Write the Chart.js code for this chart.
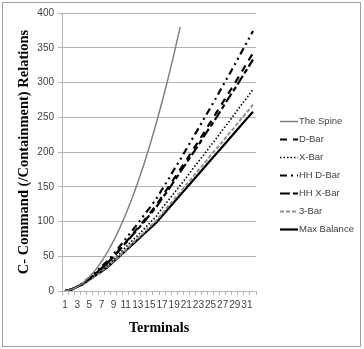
<!DOCTYPE html>
<html>
<head>
<meta charset="utf-8">
<script src="https://cdn.jsdelivr.net/npm/chart.js@4/dist/chart.umd.min.js"></script>
<style>
html,body{margin:0;padding:0;background:#fff;}
#wrap{width:364px;height:349px;position:relative;}
</style>
</head>
<body>
<div id="wrap"><canvas id="c"></canvas></div>
<script>
const terminals = [1,2,3,4,5,6,7,8,9,10,11,12,13,14,15,16,17,18,19,20,21,22,23,24,25,26,27,28,29,30,31,32];
const spine      = [0,2,6,12,20,30,42,56,72,90,110,132,156,182,210,240,272,306,342,380];
const dBar       = [0,2,6,11,18,25,33,40,50,60,70,80,91,101,112,123,136,149,162,175,188,202,215,229,243,257,271,285,299,313,328,342];
const xBar       = [0,2,6,10,17,23,30,36,45,54,63,72,80,89,98,107,119,130,141,152,163,175,186,197,209,220,232,243,255,267,278,290];
const hhDBar     = [0,2,6,12,19,27,35,43,53,64,75,86,97,109,120,132,146,160,175,189,204,219,234,249,264,279,295,310,326,342,358,374];
const hhXBar     = [0,2,6,11,18,25,32,40,49,59,69,79,89,99,110,120,133,145,158,171,184,197,210,224,237,250,264,278,291,305,319,333];
const threeBar   = [0,2,6,10,16,22,29,35,43,51,59,68,76,84,93,101,111,122,132,142,153,163,174,184,195,205,215,226,236,247,257,268];
const maxBalance = [0,2,6,10,16,22,28,34,42,50,58,66,74,82,90,98,108,118,128,138,148,158,168,178,188,198,208,218,228,238,248,258];
const seriesNames = ['The Spine','D-Bar','X-Bar','HH D-Bar','HH X-Bar','3-Bar','Max Balance'];
const yTicks = [0,50,100,150,200,250,300,350,400];

const GRID = '#b4b4b4';
const TXT = '#404040';

function ds(label, data, color, dash, width){
  return {label, data, borderColor: color, backgroundColor: color, borderDash: dash,
    borderWidth: width, pointRadius: 0, pointHoverRadius: 0, tension: 0, fill: false,
    borderCapStyle: 'butt'};
}

const frame = {
  id: 'frame',
  beforeDraw(chart){
    const ctx = chart.ctx;
    ctx.save();
    ctx.fillStyle = '#fff';
    ctx.fillRect(0,0,chart.width,chart.height);
    ctx.restore();
  },
  afterDraw(chart){
    const ctx = chart.ctx;
    ctx.save();
    ctx.strokeStyle = '#a0a0a0';
    ctx.lineWidth = 1;
    ctx.strokeRect(2.5, 2.5, 358, 344);
    // custom legend
    ctx.font = '9.5px "Liberation Sans", Arial, sans-serif';
    ctx.textBaseline = 'middle';
    chart.data.datasets.forEach((d, i) => {
      const y = Math.round(120.7 + i * 18.1) + 0.5;
      ctx.beginPath();
      ctx.setLineDash(d.borderDash || []);
      ctx.strokeStyle = d.borderColor;
      ctx.lineWidth = d.borderWidth;
      ctx.moveTo(280, y);
      ctx.lineTo(298, y);
      ctx.stroke();
      ctx.setLineDash([]);
      ctx.fillStyle = TXT;
      ctx.fillText(d.label, 299, y);
    });
    ctx.restore();
  }
};

new Chart(document.getElementById('c'), {
  type: 'line',
  data: {
    labels: terminals,
    datasets: [
      ds(seriesNames[0], spine, '#808080', [], 1.5),
      ds(seriesNames[1], dBar, '#000', [7,6], 2.2),
      ds(seriesNames[2], xBar, '#000', [1.5,2], 1.6),
      ds(seriesNames[3], hhDBar, '#000', [7,4,2,4,2,4], 2.2),
      ds(seriesNames[4], hhXBar, '#000', [10,3,5,3], 2.2),
      ds(seriesNames[5], threeBar, '#909090', [4,2], 2),
      ds(seriesNames[6], maxBalance, '#000', [], 2.2)
    ]
  },
  options: {
    responsive: true,
    maintainAspectRatio: false,
    animation: false,
    layout: { padding: { left: 0, right: 108, top: 13, bottom: 0 } },
    plugins: { legend: { display: false }, tooltip: { enabled: false } },
    scales: {
      x: {
        type: 'category',
        offset: true,
        afterFit(s){ s.height = 58; },
        grid: { display: true, drawOnChartArea: false, offset: true, tickLength: 4, color: GRID },
        border: { display: true, color: GRID },
        ticks: {
          autoSkip: false, maxRotation: 0, minRotation: 0, padding: 4,
          color: TXT, font: { size: 10, family: '"Liberation Sans", Arial, sans-serif' },
          callback(v, i){ return i % 2 === 0 ? String(terminals[i]) : ''; }
        },
        title: { display: true, text: 'Terminals', color: '#000',
          font: { size: 14, weight: 'bold', family: '"Liberation Serif", "Times New Roman", serif' },
          padding: { top: 0, bottom: 12 } }
      },
      y: {
        min: 0, max: 400,
        afterFit(s){ s.width = 62; },
        afterBuildTicks(s){ s.ticks = yTicks.map(v => ({ value: v })); },
        grid: { color: GRID, tickLength: 4 },
        border: { display: true, color: GRID },
        ticks: { color: TXT, padding: 4, font: { size: 10, family: '"Liberation Sans", Arial, sans-serif' } },
        title: { display: true, text: 'C- Command (/Containment) Relations', color: '#000',
          font: { size: 14.5, weight: 'bold', family: '"Liberation Serif", "Times New Roman", serif' },
          padding: { top: 16, bottom: 0 } }
      }
    }
  },
  plugins: [frame]
});
</script>
</body>
</html>
